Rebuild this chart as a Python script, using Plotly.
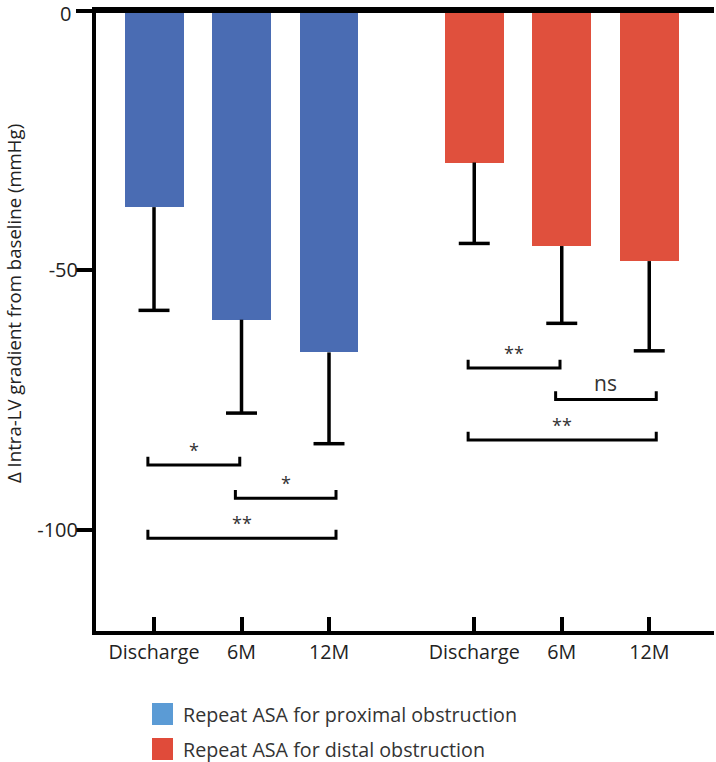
import plotly.graph_objects as go

# ---------------- data ----------------
categories = ["Discharge", "6M", "12M"]
proximal_mean = [-37.8, -59.5, -65.8]
proximal_sd = [19.9, 18.0, 17.6]
distal_mean = [-29.2, -45.3, -48.2]
distal_sd = [15.6, 14.9, 17.3]
# (from index, to index, level, label)
proximal_sig = [(0, 1, -87.5, "*"), (1, 2, -93.9, "*"), (0, 2, -101.6, "**")]
distal_sig = [(0, 1, -68.8, "**"), (1, 2, -74.9, "ns"), (0, 2, -82.7, "**")]
legend_labels = ["Repeat ASA for proximal obstruction", "Repeat ASA for distal obstruction"]
y_ticks = [0, -50, -100]
y_tick_text = ["0", "-50", "-100"]

# ---------------- layout constants ----------------
W, H = 716, 762
L, R, T, B = 96, 2, 11, 131
PW, PH = W - L - R, H - T - B
BAR_COL = ["#4A6CB3", "#E0503D"]
LEG_COL = ["#5B9BD5", "#E04B3A"]
FONT = "Open Sans"
group_start = [0.0, 3.66]
xrange = [-0.663, 6.4]
yrange = [-119.5, 0]
cap = 0.177
brk_h = 1.6

def px_x(p):
    return (p - L) / PW

def px_y(p):
    return (H - B - p) / PH

fig = go.Figure()
groups = [(proximal_mean, proximal_sd, proximal_sig), (distal_mean, distal_sd, distal_sig)]
tickvals, ticktext = [], []
annotations, shapes = [], []
for g, (means, sds, sigs) in enumerate(groups):
    xs = [group_start[g] + i for i in range(len(categories))]
    tickvals += xs
    ticktext += categories
    fig.add_trace(go.Bar(x=xs, y=means, width=0.674, marker=dict(color=BAR_COL[g], line=dict(width=0)),
                         showlegend=False, hoverinfo="skip"))
    # error bars (downward only)
    ex, ey = [], []
    for x, m, s in zip(xs, means, sds):
        ex += [x, x, None, x - cap, x + cap, None]
        ey += [m, m - s, None, m - s, m - s, None]
    fig.add_trace(go.Scatter(x=ex, y=ey, mode="lines", line=dict(color="black", width=3.5),
                             showlegend=False, hoverinfo="skip"))
    # significance brackets
    bx, by = [], []
    for a, b, lvl, lab in sigs:
        x1 = xs[a] - 0.07
        x2 = xs[b] + (0.08 if b == 2 else -0.02)
        bx += [x1, x1, x2, x2, None]
        by += [lvl + brk_h, lvl, lvl, lvl + brk_h, None]
        annotations.append(dict(x=(x1 + x2) / 2, y=lvl, xref="x", yref="y", text=lab, showarrow=False,
                                yanchor="bottom", yshift=1,
                                font=dict(family=FONT, size=18 if lab != "ns" else 21, color="#333")))
    fig.add_trace(go.Scatter(x=bx, y=by, mode="lines", line=dict(color="black", width=3),
                             showlegend=False, hoverinfo="skip"))

# top zero line extending over the 0 tick
shapes.append(dict(type="line", xref="paper", yref="paper", x0=px_x(79), x1=1, y0=1, y1=1,
                   line=dict(color="black", width=4)))

# "0" tick label kept inside the page
annotations.append(dict(x=px_x(73), y=px_y(-2), xref="paper", yref="paper", xanchor="right",
                        yanchor="top", text=y_tick_text[0], showarrow=False,
                        font=dict(family=FONT, size=20, color="#222")))

# y-axis title
annotations.append(dict(x=px_x(13), y=px_y(304), xref="paper", yref="paper", xanchor="center",
                        yanchor="middle",
                        text="Δ Intra-LV gradient from baseline (mmHg)", textangle=-90, showarrow=False,
                        font=dict(family=FONT, size=18.6, color="#222")))

# custom legend
leg_y = [714, 749]
for i, lab in enumerate(legend_labels):
    shapes.append(dict(type="rect", xref="paper", yref="paper", x0=px_x(152), x1=px_x(173),
                       y0=px_y(leg_y[i] - 11), y1=px_y(leg_y[i] + 11), fillcolor=LEG_COL[i],
                       line=dict(width=0)))
    annotations.append(dict(x=px_x(181), y=px_y(leg_y[i]), xref="paper", yref="paper", text=lab,
                            showarrow=False, xanchor="left", yanchor="middle",
                            font=dict(family=FONT, size=19.7, color="#333")))

fig.update_layout(
    width=W, height=H, margin=dict(l=L, r=R, t=T, b=B, autoexpand=False),
    plot_bgcolor="white", paper_bgcolor="white",
    font=dict(family=FONT, size=20, color="#222"),
    annotations=annotations, shapes=shapes, bargap=0,
    xaxis=dict(range=xrange, tickvals=tickvals, ticktext=ticktext, showline=True, linewidth=4,
               linecolor="black", mirror=True, ticks="inside", ticklen=14, tickwidth=4, tickcolor="black",
               automargin=False,
               showgrid=False, zeroline=False, tickfont=dict(family=FONT, size=19.7, color="#222")),
    yaxis=dict(range=yrange, tickvals=y_ticks, ticktext=[""] + y_tick_text[1:], showline=True, linewidth=4,
               linecolor="black", ticks="outside", ticklen=16, tickwidth=4, tickcolor="black",
               ticklabelstandoff=-6, automargin=False,
               showgrid=False, zeroline=False, tickfont=dict(family=FONT, size=20, color="#222")),
)
fig.write_html("out.html")
